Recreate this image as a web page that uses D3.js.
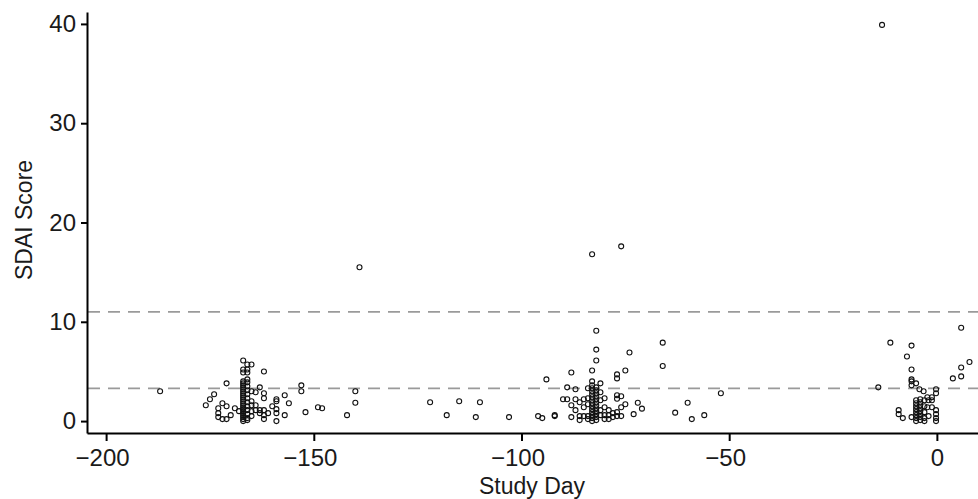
<!DOCTYPE html>
<html>
<head>
  <meta charset="utf-8">
  <script src="https://d3js.org/d3.v7.min.js"></script>
  <title>SDAI Score by Study Day</title>
  <style>
    body { margin: 0; background: #fff; }
    svg { display: block; font-family: "Liberation Sans", Arial, sans-serif; }
    .axis path, .axis line { stroke: #000; stroke-width: 2px; }
    .axis text { font-size: 24px; fill: #1a1a1a; }
  </style>
</head>
<body>
<svg width="978" height="499"></svg>
<script>
// tick values
var xTicks = [-200, -150, -100, -50, 0];
var yTicks = [0, 10, 20, 30, 40];

// SDAI cut-offs (remission / moderate activity)
var thresholds = [3.3, 11];

// [study day, SDAI score], one array per visit cluster
var visitA = [
  [-187, 3.0],
  [-176, 1.6], [-175, 2.2], [-174, 2.7], [-171, 3.8], [-173, 1.3], [-173, 0.8], [-173, 0.4],
  [-172, 0.2], [-172, 1.8], [-171, 1.5], [-171, 0.2], [-170, 0.6], [-169, 1.3], [-168, 1.0],
  [-167, 6.1], [-167, 5.2], [-167, 4.9], [-167, 4.0], [-167, 3.8], [-167, 3.6], [-167, 3.4],
  [-167, 3.2], [-167, 3.0], [-167, 2.8], [-167, 2.6], [-167, 2.4], [-167, 2.2], [-167, 2.0],
  [-167, 1.8], [-167, 1.6], [-167, 1.4], [-167, 1.2], [-167, 1.0], [-167, 0.8], [-167, 0.6],
  [-167, 0.4], [-167, 0.2], [-167, 0.0],
  [-166, 5.7], [-166, 5.2], [-166, 4.9], [-166, 4.2], [-166, 3.9], [-166, 3.5], [-166, 3.1],
  [-166, 2.7], [-166, 2.3], [-166, 1.9], [-166, 1.5], [-166, 1.1], [-166, 0.7], [-166, 0.3],
  [-166, 0.1],
  [-165, 5.7], [-165, 3.0], [-165, 2.0], [-165, 1.6], [-165, 1.0], [-165, 0.5],
  [-164, 2.9], [-164, 1.6], [-164, 1.1],
  [-163, 3.4], [-163, 1.1], [-163, 0.8],
  [-162, 5.0], [-162, 2.8], [-162, 2.3], [-162, 1.1], [-162, 0.6], [-162, 0.2],
  [-161, 0.8], [-160, 1.5],
  [-159, 2.2], [-159, 2.0], [-159, 1.2], [-159, 0.8], [-159, 0.0],
  [-157, 2.6], [-157, 0.6], [-156, 1.8],
  [-153, 3.6], [-153, 3.0], [-152, 0.9], [-149, 1.4], [-148, 1.3],
  [-142, 0.6], [-140, 3.0], [-140, 1.85], [-139, 15.5]
];

var visitB = [
  [-122, 1.9], [-118, 0.6], [-115, 2.0], [-111, 0.4], [-110, 1.9], [-103, 0.4],
  [-96, 0.5], [-95, 0.3], [-94, 4.2], [-92, 0.5], [-92, 0.6],
  [-90, 2.2], [-89, 2.2], [-89, 3.4], [-88, 4.9], [-88, 1.6], [-88, 0.4],
  [-87, 3.2], [-87, 2.2], [-87, 1.1], [-86, 1.9], [-86, 0.5], [-86, 0.1],
  [-85, 2.2], [-85, 1.4], [-85, 0.5],
  [-84, 3.3], [-84, 2.3], [-84, 1.7], [-84, 0.5], [-84, 0.2],
  [-83, 16.8], [-83, 5.1], [-83, 4.0], [-83, 3.6], [-83, 3.3], [-83, 3.0], [-83, 2.7],
  [-83, 2.4], [-83, 2.1], [-83, 1.8], [-83, 1.5], [-83, 1.2], [-83, 0.9], [-83, 0.6],
  [-83, 0.3], [-83, 0.0],
  [-82, 9.1], [-82, 7.2], [-82, 6.1], [-82, 3.4], [-82, 3.1], [-82, 2.8], [-82, 2.5],
  [-82, 2.2], [-82, 1.9], [-82, 1.6], [-82, 1.3], [-82, 1.0], [-82, 0.7], [-82, 0.4],
  [-82, 0.1],
  [-81, 3.8], [-81, 2.9], [-81, 2.1], [-81, 1.1], [-81, 0.6],
  [-80, 2.3], [-80, 1.4], [-80, 0.6], [-80, 0.2],
  [-79, 1.1], [-79, 0.6], [-79, 0.2], [-78, 0.8], [-78, 0.4],
  [-77, 4.7], [-77, 4.3], [-77, 2.6], [-77, 2.25], [-77, 0.9], [-77, 0.5],
  [-76, 17.6], [-76, 2.5], [-76, 1.4], [-76, 0.5],
  [-75, 5.1], [-75, 1.7], [-74, 6.9], [-73, 0.7], [-72, 1.85], [-71, 1.25],
  [-66, 7.9], [-66, 5.55], [-63, 0.85], [-60, 1.85], [-59, 0.2], [-56, 0.6], [-52, 2.8]
];

var visitC = [
  [-14.1, 3.4], [-13.2, 39.9], [-11.2, 7.9], [-9.2, 1.1], [-9.2, 0.7], [-8.2, 0.3],
  [-7.2, 6.5], [-6.1, 7.6], [-6.1, 5.2], [-6.1, 4.2], [-6.1, 4.0], [-6.1, 3.6], [-6.1, 0.4],
  [-5, 3.8], [-4.2, 3.2], [-3.2, 3.0],
  [-5, 2.1], [-5, 1.8], [-5, 1.5], [-5, 1.2], [-5, 0.9], [-5, 0.6], [-5, 0.3], [-5, 0.0],
  [-4, 2.2], [-4, 1.9], [-4, 1.6], [-4, 1.3], [-4, 1.0], [-4, 0.7], [-4, 0.4], [-4, 0.1],
  [-3, 2.1], [-3, 1.5], [-3, 0.9], [-3, 0.3], [-3, 0.0],
  [-2.3, 2.4], [-2.3, 1.4], [-2, 2.1], [-2, 0.5],
  [-1.2, 2.4], [-1.2, 2.1], [-1.2, 1.4],
  [-0.2, 3.2], [-0.2, 2.8], [-0.2, 1.1], [-0.2, 0.7], [-0.2, 0.3], [-0.2, 0.0],
  [3.85, 4.3], [5.85, 9.4], [5.85, 5.4], [5.85, 4.5], [7.85, 5.95]
];

var svg = d3.select("svg"),
    plotLeft = 87, plotRight = 978, plotTop = 12, plotBottom = 433;

var x = d3.scaleLinear().domain([-204.6, 9.9]).range([plotLeft, plotRight]);
var y = d3.scaleLinear().domain([-1.2, 41.2]).range([plotBottom, plotTop]);

// dashed reference lines
svg.append("g")
  .selectAll("line")
  .data(thresholds)
  .enter().append("line")
    .attr("x1", plotLeft + 1)
    .attr("x2", plotRight)
    .attr("y1", function(d) { return y(d); })
    .attr("y2", function(d) { return y(d); })
    .attr("stroke", "#9a9a9a")
    .attr("stroke-width", 1.8)
    .attr("stroke-dasharray", "12,8");

// points
var points = visitA.concat(visitB, visitC);
svg.append("g")
  .selectAll("circle")
  .data(points)
  .enter().append("circle")
    .attr("cx", function(d) { return x(d[0]); })
    .attr("cy", function(d) { return y(d[1]); })
    .attr("r", 2.5)
    .attr("fill", "none")
    .attr("stroke", "#111")
    .attr("stroke-width", 1.1);

// axes
var xAxis = svg.append("g")
  .attr("class", "axis")
  .attr("transform", "translate(0," + plotBottom + ")")
  .call(d3.axisBottom(x).tickValues(xTicks).tickSize(8).tickSizeOuter(0).tickPadding(8));

// negative labels sit a little left of their tick in the original
xAxis.selectAll(".tick text")
  .attr("dx", function(d) { return d < 0 ? -4 : 0; });

svg.append("g")
  .attr("class", "axis")
  .attr("transform", "translate(" + plotLeft + ",0)")
  .call(d3.axisLeft(y).tickValues(yTicks).tickSize(6).tickSizeOuter(0).tickPadding(5));

// axis titles
svg.append("text")
  .attr("x", 532)
  .attr("y", 494)
  .attr("text-anchor", "middle")
  .style("font-size", "23px")
  .attr("fill", "#1a1a1a")
  .text("Study Day");

svg.append("text")
  .attr("transform", "translate(32," + 220 + ") rotate(-90)")
  .attr("text-anchor", "middle")
  .style("font-size", "23px")
  .attr("fill", "#1a1a1a")
  .text("SDAI Score");
</script>
</body>
</html>
